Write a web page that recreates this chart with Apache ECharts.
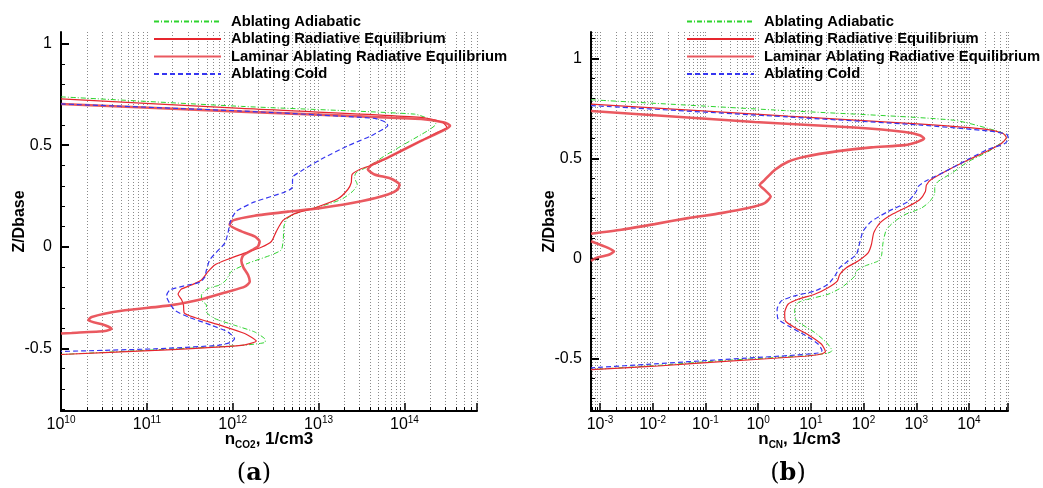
<!DOCTYPE html>
<html><head><meta charset="utf-8">
<script src="https://cdn.jsdelivr.net/npm/echarts@6/dist/echarts.min.js"></script>
<style>html,body{margin:0;padding:0;background:#fff}#c{width:1043px;height:488px}</style>
</head><body><div id="c"></div>
<script>
const seriesNames = ['Ablating Adiabatic', 'Ablating Radiative Equilibrium', 'Laminar Ablating Radiative Equilibrium', 'Ablating Cold'];

// ---- (a) n_CO2 [1/cm3] vs Z/Dbase ----
const co2AdiabaticN = [1e10,1.26e12,1.31e14,2.04e14,2.33e14,1.86e14,1.0e14,5.85e13,3.92e13,2.74e13,2.62e13,2.82e13,2.51e13,1.84e13,1.07e13,6.28e12,4.40e12,3.95e12,3.88e12,3.68e12,2.82e12,1.51e12,9.6e11,8.4e11,7.06e11,5.16e11,4.32e11,4.32e11,4.94e11,4.94e11,6.18e11,1.05e12,1.80e12,2.36e12,2.40e12,1.26e12,1.24e11,1e10];
const co2AdiabaticZ = [0.738,0.691,0.653,0.625,0.604,0.571,0.505,0.447,0.398,0.365,0.340,0.307,0.274,0.233,0.200,0.175,0.142,0.101,0.035,-0.015,-0.040,-0.081,-0.122,-0.163,-0.188,-0.205,-0.238,-0.262,-0.287,-0.320,-0.353,-0.386,-0.419,-0.452,-0.469,-0.485,-0.507,-0.530];

const co2RadEqN = [1e10,1.26e12,1.56e14,2.79e14,3.13e14,2.44e14,1.0e14,4.48e13,3.13e13,2.46e13,2.4e13,2.19e13,1.68e13,8.98e12,5.26e12,3.85e12,3.22e12,2.82e12,2.15e12,1.38e12,8.8e11,6.17e11,5.16e11,4.32e11,3.30e11,2.53e11,2.31e11,2.53e11,2.67e11,2.72e11,3.61e11,7.38e11,1.38e12,1.88e12,1.26e12,1.24e11,1e10];
const co2RadEqZ = [0.728,0.681,0.637,0.612,0.587,0.563,0.480,0.406,0.384,0.356,0.315,0.282,0.236,0.191,0.163,0.130,0.076,0.026,-0.002,-0.031,-0.061,-0.089,-0.122,-0.163,-0.188,-0.208,-0.233,-0.259,-0.287,-0.325,-0.348,-0.388,-0.427,-0.464,-0.485,-0.510,-0.530];

const co2LaminarN = [1e10,1.26e12,1.56e14,2.92e14,3.40e14,2.92e14,1.56e14,6.4e13,4.09e13,3.75e13,4.48e13,7.0e13,8.75e13,8.36e13,6.4e13,3.13e13,1.07e13,4.4e12,1.80e12,1.01e12,9.2e11,1.26e12,1.80e12,2.06e12,1.97e12,1.65e12,1.32e12,1.26e12,1.33e12,1.51e12,1.58e12,1.38e12,8.8e11,4.72e11,1.94e11,5.07e10,2.28e10,2.08e10,3.25e10,3.88e10,3.25e10,1.33e10,1e10];
const co2LaminarZ = [0.703,0.665,0.629,0.612,0.596,0.576,0.521,0.439,0.401,0.381,0.356,0.335,0.307,0.282,0.257,0.224,0.191,0.173,0.153,0.130,0.109,0.076,0.051,0.026,0.002,-0.018,-0.043,-0.068,-0.101,-0.139,-0.172,-0.196,-0.221,-0.254,-0.287,-0.315,-0.345,-0.361,-0.386,-0.403,-0.414,-0.424,-0.427];

const co2ColdN = [1e10,1.26e12,4.48e13,6.12e13,6.4e13,5.85e13,4.09e13,2.19e13,1.07e13,6.28e12,5.04e12,4.9e12,4.03e12,1.80e12,1.10e12,9.4e11,8.8e11,8.1e11,6.75e11,5.4e11,4.94e11,4.72e11,4.13e11,3.02e11,1.85e11,1.69e11,1.85e11,2.15e11,3.02e11,5.65e11,8.8e11,1.05e12,9.6e11,6.75e11,1.24e11,1e10];
const co2ColdZ = [0.703,0.668,0.632,0.612,0.596,0.583,0.546,0.497,0.431,0.373,0.345,0.290,0.269,0.221,0.175,0.125,0.068,0.018,-0.018,-0.064,-0.114,-0.150,-0.175,-0.188,-0.213,-0.243,-0.279,-0.315,-0.345,-0.386,-0.419,-0.452,-0.469,-0.485,-0.502,-0.515];

// ---- (b) n_CN [1/cm3] vs Z/Dbase ----
const cnAdiabaticN = [6.75e-4,3.16,5.05e3,3.88e4,5.33e4,4.78e4,2.30e4,9.6e3,4.65e3,2.59e3,2.24e3,2.24e3,1.80e3,1.25e3,604,390,271,234,218,188,105,73.1,67.9,54.6,37.9,21.2,8.85,5.71,4.94,5.09,6.61,11.8,19.7,25.2,21.2,8.85,0.2,0.0109,6.75e-4];
const cnAdiabaticZ = [0.794,0.740,0.692,0.633,0.608,0.592,0.534,0.484,0.426,0.385,0.360,0.327,0.285,0.252,0.219,0.186,0.144,0.078,0.012,-0.013,-0.038,-0.063,-0.088,-0.113,-0.146,-0.179,-0.204,-0.221,-0.254,-0.303,-0.328,-0.370,-0.420,-0.461,-0.473,-0.486,-0.511,-0.536,-0.556];

const cnRadEqN = [6.75e-4,3.69,1.25e3,2.30e4,4.44e4,5.13e4,4.12e4,2.30e4,9.6e3,4.01e3,1.94e3,1.56e3,1.49e3,1.16e3,698,337,203,156,141,122,78.7,47.2,35.3,31.8,21.2,11.8,5.71,3.69,3.19,3.29,4.94,9.5,15.8,18.9,15.8,7.66,0.2,0.0109,6.75e-4];
const cnRadEqZ = [0.772,0.712,0.672,0.645,0.625,0.605,0.575,0.539,0.493,0.443,0.396,0.368,0.335,0.294,0.260,0.219,0.177,0.128,0.070,0.028,-0.013,-0.046,-0.080,-0.113,-0.146,-0.179,-0.204,-0.229,-0.270,-0.312,-0.345,-0.386,-0.428,-0.466,-0.478,-0.489,-0.516,-0.539,-0.556];

const cnLaminarN = [6.75e-4,0.861,67.9,604,1.16e3,1.41e3,1.08e3,604,141,32.8,7.66,3.69,2.06,1.33,1.07,1.33,1.73,1.33,0.643,0.2,0.0468,0.0109,2.54e-3,6.75e-4,null,6.75e-4,1.42e-3,1.85e-3,1.42e-3,8.5e-4,6.75e-4];
const cnLaminarZ = [0.738,0.683,0.655,0.633,0.617,0.600,0.584,0.567,0.556,0.537,0.509,0.484,0.443,0.393,0.368,0.343,0.310,0.277,0.252,0.227,0.202,0.172,0.144,0.124,null,0.086,0.053,0.036,0.017,0.003,-0.012];

const cnColdN = [6.75e-4,3.69,1.25e3,2.30e4,5.13e4,5.6e4,4.78e4,2.30e4,9.6e3,3.47e3,1.45e3,1.08e3,1.0e3,698,292,141,97.7,84.5,73.1,50.8,35.3,28.4,21.2,11.8,4.94,2.76,2.29,2.39,3.69,7.66,13.7,16.3,13.7,3.69,0.2,0.0109,6.75e-4];
const cnColdZ = [0.765,0.708,0.667,0.638,0.622,0.600,0.575,0.546,0.496,0.434,0.385,0.360,0.335,0.285,0.235,0.186,0.136,0.078,0.020,-0.013,-0.046,-0.088,-0.129,-0.163,-0.187,-0.212,-0.254,-0.303,-0.337,-0.383,-0.428,-0.461,-0.473,-0.486,-0.506,-0.527,-0.547];

// axis ranges and tick values
const xRangeA = [1e10, 7e14];
const xRangeB = [6.75e-4, 5.5e4];
const yRangeA = [-0.808, 1.057];
const yRangeB = [-0.763, 1.133];
const yMajorTicks = [-0.5, 0, 0.5, 1];
const yMinorTicksA = [-0.8,-0.7,-0.6,-0.5,-0.4,-0.3,-0.2,-0.1,0,0.1,0.2,0.3,0.4,0.5,0.6,0.7,0.8,0.9,1.0];
const yMinorTicksB = [-0.7,-0.6,-0.5,-0.4,-0.3,-0.2,-0.1,0,0.1,0.2,0.3,0.4,0.5,0.6,0.7,0.8,0.9,1.0,1.1];

const FONT = '"Liberation Sans", Arial, Helvetica, sans-serif';
const styles = [
  {color: '#2fd42f', width: 1, type: [5, 2, 1, 2]},
  {color: '#e6262e', width: 1.2, type: 'solid'},
  {color: '#e8474f', width: 2.6, type: 'solid', opacity: 0.9},
  {color: '#3636f0', width: 1.2, type: [5, 3]}
];

function pairs(N, Z) { return N.map((n, i) => n === null ? ['-', '-'] : [n, Z[i]]); }

function powLabel(v) {
  const e = Math.log10(v);
  const r = Math.round(e);
  if (Math.abs(e - r) > 1e-6) return '';
  return '10{sup|' + r + '}';
}

function xAxis(gi, range, nameRich) {
  return {
    type: 'log', logBase: 10, gridIndex: gi, min: range[0], max: range[1],
    name: nameRich, nameLocation: 'middle', nameGap: 17, nameMoveOverlap: false,
    nameTextStyle: {fontFamily: FONT, fontWeight: 'bold', fontSize: 17, color: '#000', lineHeight: 22,
      rich: {sub: {fontFamily: FONT, fontWeight: 'bold', fontSize: 10, color: '#000', verticalAlign: 'bottom'}}},
    axisLine: {show: true, onZero: false, lineStyle: {color: '#000', width: 2}},
    axisTick: {show: true, inside: true, length: 8, lineStyle: {color: '#000', width: 1.5}},
    minorTick: {show: true, splitNumber: 9, length: 4, lineStyle: {color: '#000', width: 1}},
    splitLine: {show: true, lineStyle: {color: '#8a8a8a', type: [1, 2], width: 1}},
    minorSplitLine: {show: true, lineStyle: {color: '#8a8a8a', type: [1, 2], width: 1}},
    axisLabel: {formatter: powLabel, margin: 4, fontFamily: FONT, fontSize: 16, color: '#000', lineHeight: 20,
      rich: {sup: {fontFamily: FONT, fontSize: 10, color: '#000', verticalAlign: 'top'}}}
  };
}

function yMain(gi, range) {
  return {
    type: 'value', gridIndex: gi, min: range[0], max: range[1], position: 'left',
    name: 'Z/Dbase', nameLocation: 'middle', nameGap: 33, nameMoveOverlap: false,
    nameTextStyle: {fontFamily: FONT, fontWeight: 'bold', fontSize: 16, color: '#000'},
    axisLine: {show: true, onZero: false, lineStyle: {color: '#000', width: 2}},
    axisTick: {show: true, inside: true, length: 8, customValues: yMajorTicks, lineStyle: {color: '#000', width: 2}},
    axisLabel: {customValues: yMajorTicks, margin: 9, fontFamily: FONT, fontSize: 16, color: '#000'},
    splitLine: {show: false}
  };
}

function yMinor(gi, range, ticks) {
  return {
    type: 'value', gridIndex: gi, min: range[0], max: range[1], position: 'left',
    axisLine: {show: false},
    axisTick: {show: true, inside: true, length: 4, customValues: ticks, lineStyle: {color: '#000', width: 1}},
    axisLabel: {show: false},
    splitLine: {show: false}
  };
}

function line(name, data, idx, s) {
  return {
    type: 'line', name, data, xAxisIndex: idx, yAxisIndex: idx,
    symbol: 'none', smooth: 0.2, clip: true, connectNulls: false,
    lineStyle: s, itemStyle: {color: s.color}, emphasis: {disabled: true}
  };
}

function legend(left) {
  return {
    data: seriesNames, orient: 'vertical', left, top: 14, padding: 0,
    itemWidth: 67, itemHeight: 14, itemGap: 2.5, selectedMode: false,
    itemStyle: {opacity: 0},
    textStyle: {fontFamily: FONT, fontWeight: 'bold', fontSize: 14.8, color: '#000', padding: [0, 0, 0, 5]}
  };
}

const chart = echarts.init(document.getElementById('c'), null, {renderer: 'canvas'});
chart.setOption({
  animation: false,
  backgroundColor: '#fff',
  grid: [
    {left: 61, top: 32, width: 416, height: 379},
    {left: 591, top: 32, width: 417, height: 379}
  ],
  xAxis: [xAxis(0, xRangeA, 'n{sub|CO2}, 1/cm3'), xAxis(1, xRangeB, 'n{sub|CN}, 1/cm3')],
  yAxis: [yMain(0, yRangeA), yMain(1, yRangeB), yMinor(0, yRangeA, yMinorTicksA), yMinor(1, yRangeB, yMinorTicksB)],
  legend: [legend(153), legend(686)],
  series: [
    line(seriesNames[0], pairs(co2AdiabaticN, co2AdiabaticZ), 0, styles[0]),
    line(seriesNames[1], pairs(co2RadEqN, co2RadEqZ), 0, styles[1]),
    line(seriesNames[2], pairs(co2LaminarN, co2LaminarZ), 0, styles[2]),
    line(seriesNames[3], pairs(co2ColdN, co2ColdZ), 0, styles[3]),
    line(seriesNames[0], pairs(cnAdiabaticN, cnAdiabaticZ), 1, styles[0]),
    line(seriesNames[1], pairs(cnRadEqN, cnRadEqZ), 1, styles[1]),
    line(seriesNames[2], pairs(cnLaminarN, cnLaminarZ), 1, styles[2]),
    line(seriesNames[3], pairs(cnColdN, cnColdZ), 1, styles[3])
  ],
  graphic: [
    {type: 'text', x: 254, y: 474, style: {text: '({b|a})', fontFamily: '"DejaVu Serif", serif', fontSize: 24, fill: '#000', align: 'center', verticalAlign: 'middle',
      rich: {b: {fontFamily: '"DejaVu Serif", serif', fontSize: 24, fontWeight: 'bold'}}}},
    {type: 'text', x: 788, y: 474, style: {text: '({b|b})', fontFamily: '"DejaVu Serif", serif', fontSize: 24, fill: '#000', align: 'center', verticalAlign: 'middle',
      rich: {b: {fontFamily: '"DejaVu Serif", serif', fontSize: 24, fontWeight: 'bold'}}}}
  ]
});
</script>
</body></html>
